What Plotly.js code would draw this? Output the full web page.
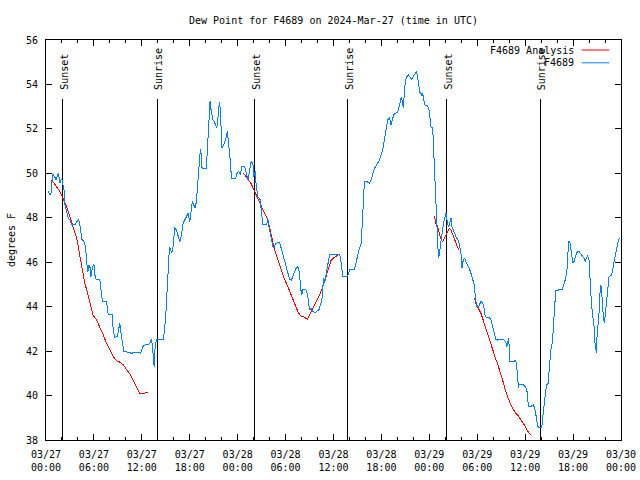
<!DOCTYPE html>
<html>
<head>
<meta charset="utf-8">
<script src="https://cdn.plot.ly/plotly-3.0.1.min.js"></script>
<style>html,body{margin:0;padding:0;background:#fff;}#chart{width:640px;height:480px;}
#chart path.js-line{shape-rendering:crispEdges;}</style>
</head>
<body>
<div id="chart"></div>
<script>
// Observed dew point (F4689), hours since 2024-03-27 00:00 UTC
const obsHours = [0.29,0.5,0.625,0.71,0.83,1.0,1.125,1.25,1.42,1.54,1.67,1.75,1.875,2.0,2.08,2.25,2.375,2.58,2.79,3.0,3.21,3.625,3.83,4.04,4.17,4.33,4.5,4.75,4.96,5.08,5.25,5.375,5.5,5.625,5.79,6.0,6.17,6.33,6.75,6.96,7.08,7.58,7.79,8.29,8.42,8.58,8.92,9.08,9.25,9.42,9.58,9.75,10.29,10.71,11.125,11.67,11.83,12.17,12.42,12.79,13.0,13.21,13.33,13.42,13.54,13.625,13.83,14.67,14.83,15.0,15.08,15.21,15.33,15.46,15.625,15.75,15.92,16.04,16.125,16.33,16.54,16.75,16.96,17.17,17.375,17.58,17.79,18.0,
18.21,18.33,18.5,18.67,18.83,18.96,19.08,19.25,19.33,19.46,19.54,20.08,20.17,20.29,20.375,20.46,20.54,20.67,20.79,20.92,21.08,21.25,21.375,21.5,21.58,21.71,21.83,21.96,22.04,22.25,22.42,22.58,22.71,22.83,23.0,23.125,
23.21,23.75,23.92,24.125,24.33,24.54,24.875,25.08,25.29,25.5,25.71,25.92,26.0,26.21,26.33,26.54,26.83,27.04,27.17,27.58,27.79,27.92,28.08,28.25,28.42,28.54,28.75,29.25,29.46,29.67,29.875,30.08,30.29,30.5,30.71,30.92,31.125,31.33,31.54,31.75,31.875,32.04,32.17,32.375,32.58,32.79,32.92,33.0,33.21,33.42,33.75,33.96,34.17,34.375,34.54,34.67,34.79,34.92,35.08,35.21,35.375,35.5,35.71,36.33,36.75,36.875,37.04,37.17,37.79,38.0,38.625,38.83,39.04,39.25,39.46,39.58,39.67,39.79,39.875,40.17,40.5,40.71,40.92,41.125,41.33,41.54,41.75,41.96,42.17,42.29,42.42,42.58,42.79,43.0,43.21,43.42,43.625,44.04,44.25,44.375,44.5,44.67,44.75,44.875,45.0,45.17,45.375,45.58,45.83,46.0,46.25,46.42,46.54,46.67,46.83,46.96,47.08,47.17,47.29,47.42,47.79,47.92,
48.0,48.125,48.21,48.42,48.5,48.58,48.71,48.83,48.96,49.08,49.17,49.29,49.42,49.58,49.75,49.96,50.08,50.21,50.375,50.5,50.71,50.83,51.0,51.125,51.33,51.54,51.75,51.96,52.08,52.25,52.42,52.58,52.79,53.0,53.21,53.42,53.625,53.75,53.92,54.17,54.33,54.46,54.67,54.875,55.0,55.17,55.5,55.71,55.92,56.125,56.33,56.54,56.96,57.375,57.58,57.71,57.83,57.92,58.0,58.08,58.42,58.83,58.96,59.04,59.17,59.25,59.67,60.0,60.21,60.33,60.46,60.79,61.04,61.25,61.42,61.58,61.75,62.08,62.25,62.46,62.67,62.875,63.0,63.21,63.42,63.54,63.71,63.83,64.17,64.67,64.875,65.08,65.29,65.42,65.58,65.71,65.83,65.96,66.125,66.33,66.54,66.75,66.96,67.17,67.375,67.5,67.67,67.83,68.0,68.08,68.21,68.33,68.5,68.625,68.75,68.92,69.04,69.17,69.29,69.42,69.54,69.67,69.79,69.92,70.08,70.25,70.375,70.5,70.83,71.0,71.17,71.33,71.5,71.67,71.9];
const obsValues = [49.18,49.03,49.1,49.7,49.97,49.88,49.82,49.7,49.88,50.0,49.78,49.55,49.7,49.73,49.55,49.28,48.58,48.2,47.98,47.9,47.68,47.68,47.78,47.93,47.83,47.3,47.03,46.93,46.7,46.03,45.58,45.88,45.8,45.35,45.73,45.92,45.28,45.23,45.2,44.53,44.23,44.23,43.63,43.63,42.95,42.62,42.65,42.95,43.25,42.73,42.35,41.98,41.95,41.9,41.95,41.95,41.9,42.23,42.28,42.28,42.35,42.53,42.2,41.6,41.3,42.05,42.53,42.53,42.88,43.63,44.3,45.05,45.73,46.7,46.55,46.4,46.7,47.3,47.57,47.45,47.23,46.93,47.23,47.75,47.9,48.05,48.2,47.83,
48.43,48.73,48.58,48.43,48.73,49.4,50.03,50.83,51.08,50.83,50.23,50.23,50.75,51.35,52.1,52.63,53.23,52.85,52.63,52.4,52.33,52.18,52.03,52.4,52.78,53.23,52.85,51.8,51.13,51.28,51.43,51.65,51.88,51.5,50.75,50.38,
49.78,49.78,50.0,50.08,49.93,50.33,50.3,49.93,49.7,50.15,50.57,50.38,49.85,50.08,49.4,48.95,48.8,48.05,47.68,47.68,47.9,47.6,47.3,47.0,46.7,46.63,46.85,46.9,46.63,46.4,46.1,45.8,45.5,45.23,45.2,45.35,45.58,45.73,45.8,45.5,44.83,44.53,44.78,44.78,44.75,44.45,44.15,43.85,43.93,43.78,43.73,43.82,43.85,44.08,44.3,44.9,45.28,45.13,45.43,45.8,45.95,46.33,46.36,46.36,46.36,46.18,45.65,45.38,45.38,45.65,45.68,46.03,46.4,46.63,46.85,47.45,48.2,49.1,49.63,49.63,49.55,49.7,50.0,50.23,50.33,50.45,50.6,50.83,51.05,51.35,51.65,52.1,52.4,52.52,52.18,52.48,52.7,52.73,53.08,53.23,53.45,53.15,52.93,53.68,54.13,54.35,54.43,54.32,54.23,54.38,54.5,54.58,54.28,54.05,53.6,53.63,53.48,53.6,53.38,53.08,53.05,52.82,
52.78,52.33,52.07,52.07,51.43,50.08,49.03,48.05,47.45,46.63,46.18,46.48,47.0,47.38,47.68,48.05,48.23,47.9,47.6,47.68,47.98,47.6,47.45,47.3,47.15,47.03,46.85,46.4,45.73,46.1,46.18,46.03,45.88,45.73,45.5,45.2,44.98,44.53,44.0,44.0,44.15,44.23,44.18,43.88,43.55,43.52,43.52,43.4,43.1,42.8,42.53,42.5,42.53,42.5,42.38,42.2,42.43,42.58,42.2,41.53,41.53,41.57,41.23,40.63,40.33,40.52,40.52,40.4,40.28,39.73,39.53,39.53,39.58,39.35,38.98,38.6,38.57,38.57,39.2,39.8,40.48,40.55,41.23,42.05,42.43,43.25,44.15,44.75,44.75,44.78,45.05,45.28,45.8,46.93,46.93,46.7,46.33,45.95,46.03,46.28,46.48,46.48,46.4,46.28,46.18,46.03,46.18,46.3,46.1,45.35,44.68,44.0,43.48,43.1,42.35,41.9,43.03,43.25,44.0,44.98,44.9,44.0,43.55,43.25,43.85,44.45,45.05,45.35,45.43,45.8,46.1,46.4,46.7,47.0,47.1];

// Analysis (F4689 Analysis); null separates segments
const anaHours = [0.71,1.33,1.75,2.17,2.58,3.0,3.42,3.83,4.04,4.25,4.46,4.67,4.875,5.08,5.29,5.5,5.71,5.92,6.33,6.75,7.17,7.58,8.0,8.42,8.83,9.25,9.67,10.08,10.5,10.92,11.33,11.75,12.17,12.5,12.79,
null,
24.75,25.29,25.71,26.125,26.54,26.96,27.375,27.79,28.0,28.21,28.42,28.625,29.04,29.46,29.875,30.29,30.71,31.125,31.54,31.875,32.375,32.71,33.0,33.42,33.83,34.25,34.67,35.08,35.42,35.71,36.125,36.54,36.75,
null,
48.625,48.83,49.04,49.25,49.46,49.67,49.875,50.08,50.29,50.5,50.71,50.92,51.125,51.42,51.67,
null,
53.67,53.83,54.04,54.25,54.46,54.67,54.875,55.08,55.29,55.5,55.71,55.92,56.125,56.33,56.54,56.75,56.96,57.17,57.375,57.58,57.79,58.0,58.21,58.42,58.625,58.83,59.04,59.25,59.46,59.67,59.875,60.08,60.29,60.5,60.71];
const anaValues = [49.7,49.4,49.18,48.83,48.5,48.05,47.6,47.08,46.7,46.33,45.88,45.43,45.05,44.75,44.45,44.15,43.85,43.6,43.4,43.1,42.73,42.35,42.05,41.75,41.57,41.5,41.38,41.18,40.97,40.7,40.37,40.07,40.1,40.13,40.15,
null,
50.0,49.7,49.52,49.18,48.83,48.5,48.2,47.9,47.53,47.23,46.85,46.55,46.1,45.65,45.23,44.9,44.53,44.15,43.78,43.58,43.52,43.43,43.63,43.93,44.23,44.53,44.9,45.35,45.8,46.1,46.22,46.33,46.37,
null,
48.08,47.75,47.6,47.23,47.03,46.93,47.08,47.23,47.38,47.53,47.45,47.23,47.0,46.78,46.55,
null,
44.38,44.15,44.0,43.88,43.7,43.48,43.25,42.98,42.73,42.5,42.28,42.05,41.83,41.63,41.45,41.15,40.93,40.7,40.4,40.18,39.95,39.73,39.58,39.43,39.28,39.2,39.13,39.02,38.9,38.83,38.72,38.57,38.42,38.3,38.22];

// Sunrise / sunset events
const eventHours = [2.1, 13.9, 26.15, 37.8, 50.15, 61.9];
const eventLabels = ["Sunset", "Sunrise", "Sunset", "Sunrise", "Sunset", "Sunrise"];
const eventLineTop = 53.33;
const eventLabelBase = 53.66;

// Axes
const xTickVals = [0, 6, 12, 18, 24, 30, 36, 42, 48, 54, 60, 66, 72];
const xTickLabels = ["03/27<br>00:00","03/27<br>06:00","03/27<br>12:00","03/27<br>18:00","03/28<br>00:00","03/28<br>06:00","03/28<br>12:00","03/28<br>18:00","03/29<br>00:00","03/29<br>06:00","03/29<br>12:00","03/29<br>18:00","03/30<br>00:00"];
const yTickVals = [38, 40, 42, 44, 46, 48, 50, 52, 54, 56];

const seriesNames = ["F4689 Analysis", "F4689"];
const seriesColors = ["#ff0000", "#0080ff"];

const FONT = "DejaVu Sans Mono, Liberation Mono, monospace";

// event vertical lines as one trace
const evX = [], evY = [];
eventHours.forEach(h => { evX.push(h, h, null); evY.push(38, eventLineTop, null); });

const traces = [
  {x: evX, y: evY, mode: 'lines', line: {color: '#000000', width: 1}, showlegend: false, hoverinfo: 'skip'},
  {x: anaHours, y: anaValues, name: seriesNames[0], mode: 'lines', connectgaps: false, line: {color: seriesColors[0], width: 1}, showlegend: false},
  {x: obsHours, y: obsValues, name: seriesNames[1], mode: 'lines', line: {color: seriesColors[1], width: 1}, showlegend: false}
];

const annotations = eventHours.map((h, i) => ({
  x: h, y: eventLabelBase, xref: 'x', yref: 'y', text: eventLabels[i], showarrow: false,
  textangle: -90, xanchor: 'center', yanchor: 'bottom', xshift: 1,
  font: {family: FONT, size: 10, color: '#000'}
}));

// manual gnuplot-style legend (text left, line sample right)
const legY = [0.975, 0.943];
const shapes = [];
seriesNames.forEach((n, i) => {
  annotations.push({x: 0.9217, y: legY[i], xref: 'paper', yref: 'paper', text: n, showarrow: false,
    xanchor: 'right', yanchor: 'middle', font: {family: FONT, size: 10, color: '#000'}});
  shapes.push({type: 'line', xref: 'paper', yref: 'paper', x0: 0.9317, x1: 0.9797, y0: legY[i], y1: legY[i],
    line: {color: seriesColors[i], width: 1}});
});

const layout = {
  width: 640, height: 480,
  margin: {l: 46, r: 19, t: 40, b: 40, pad: 0},
  paper_bgcolor: '#ffffff', plot_bgcolor: '#ffffff',
  showlegend: false,
  font: {family: FONT, size: 10, color: '#000'},
  title: {text: 'Dew Point for F4689 on 2024-Mar-27 (time in UTC)', x: 0.5, xref: 'paper', xanchor: 'center',
    y: 1 - 20/480, yref: 'container', yanchor: 'middle', font: {family: FONT, size: 10, color: '#000'}},
  xaxis: {
    range: [0, 72], tickmode: 'array', tickvals: xTickVals, ticktext: xTickLabels,
    ticks: 'inside', ticklen: 6, tickwidth: 1, tickcolor: '#000',
    showline: true, linecolor: '#000', linewidth: 1, mirror: 'allticks',
    showgrid: false, zeroline: false, ticklabelstandoff: 5,
    minor: {dtick: 2, tick0: 0, ticks: 'inside', ticklen: 3, tickcolor: '#000', showgrid: false},
    tickfont: {family: FONT, size: 10, color: '#000'}, fixedrange: true
  },
  yaxis: {
    range: [38, 56], tickmode: 'array', tickvals: yTickVals,
    ticks: 'inside', ticklen: 6, tickwidth: 1, tickcolor: '#000',
    showline: true, linecolor: '#000', linewidth: 1, mirror: 'allticks',
    showgrid: false, zeroline: false, ticklabelstandoff: 5,
    tickfont: {family: FONT, size: 10, color: '#000'},
    title: {text: 'degrees F', standoff: 8, font: {family: FONT, size: 10, color: '#000'}},
    fixedrange: true
  },
  annotations: annotations,
  shapes: shapes
};

Plotly.newPlot('chart', traces, layout, {staticPlot: true, displayModeBar: false});
</script>
</body>
</html>
